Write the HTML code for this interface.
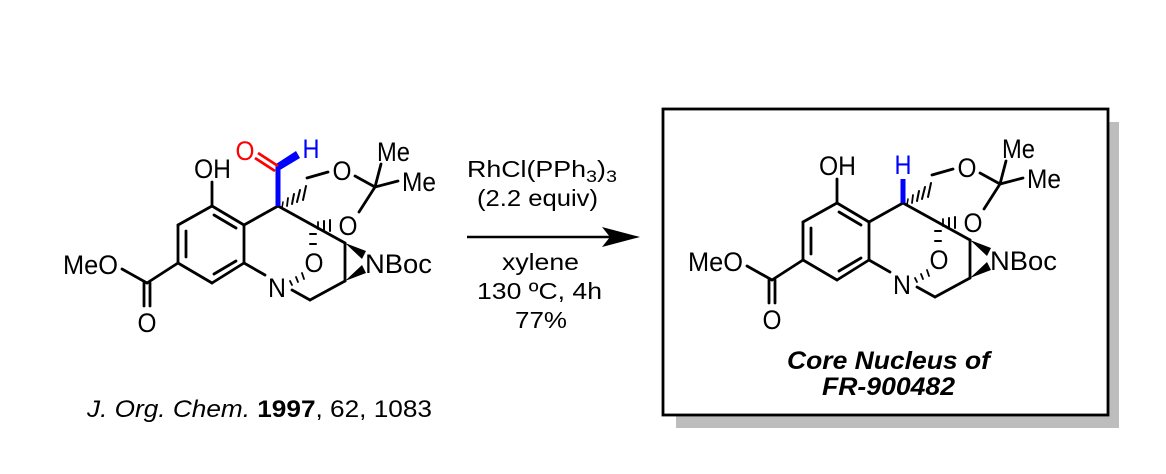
<!DOCTYPE html>
<html><head><meta charset="utf-8"><style>
html,body{margin:0;padding:0;background:#fff}
svg{display:block}
text{font-family:"Liberation Sans",Arial,sans-serif;fill:#000}
</style></head><body>
<svg width="1166" height="474" viewBox="0 0 1166 474" xmlns="http://www.w3.org/2000/svg">
<defs>
<g id="core" stroke="#000" stroke-width="2.8" fill="none" stroke-linecap="round">
  <line x1="212" y1="206" x2="178" y2="225"/>
  <line x1="178" y1="225" x2="178" y2="263"/>
  <line x1="178" y1="263" x2="212" y2="283"/>
  <line x1="212" y1="283" x2="244" y2="263"/>
  <line x1="244" y1="263" x2="244" y2="225"/>
  <line x1="244" y1="225" x2="212" y2="206"/>
  <line x1="186" y1="231" x2="186" y2="257"/>
  <line x1="214" y1="274" x2="236" y2="261"/>
  <line x1="214" y1="215" x2="236" y2="228"/>
  <line x1="212" y1="206" x2="212" y2="182"/>
  <line x1="178" y1="263" x2="147" y2="283"/>
  <line x1="147" y1="283" x2="122" y2="269"/>
  <line x1="144" y1="283" x2="144" y2="306"/>
  <line x1="150" y1="283" x2="150" y2="306"/>
  <line x1="244" y1="225" x2="278" y2="206"/>
  <line x1="278" y1="206" x2="345" y2="243"/>
  <line x1="345" y1="243" x2="345" y2="281"/>
  <line x1="345" y1="281" x2="310" y2="300"/>
  <line x1="310" y1="300" x2="292" y2="290"/>
  <line x1="244" y1="263" x2="265" y2="275"/>
  <line x1="307" y1="178" x2="328" y2="172"/>
  <line x1="355" y1="176" x2="375" y2="187"/>
  <line x1="375" y1="187" x2="359" y2="212"/>
  <line x1="375" y1="187" x2="381" y2="164"/>
  <line x1="375" y1="187" x2="398" y2="181"/>
  <line x1="283" y1="202" x2="282" y2="208" stroke-width="1.5"/>
  <line x1="288" y1="198" x2="287" y2="206" stroke-width="1.8"/>
  <line x1="294" y1="194" x2="292" y2="204" stroke-width="2"/>
  <line x1="300" y1="190" x2="297" y2="202" stroke-width="2"/>
  <line x1="306" y1="186" x2="303" y2="200" stroke-width="2"/>
  <line x1="318" y1="222" x2="318" y2="229" stroke-width="1.8"/>
  <line x1="324" y1="221" x2="324" y2="230" stroke-width="2"/>
  <line x1="330" y1="220" x2="330" y2="231" stroke-width="2"/>
  <line x1="310" y1="234" x2="316" y2="234" stroke-width="2"/>
  <line x1="310" y1="244" x2="316" y2="244" stroke-width="2"/>
  <line x1="290" y1="281" x2="292" y2="285" stroke-width="1.8"/>
  <line x1="296" y1="277" x2="298" y2="282" stroke-width="1.8"/>
  <line x1="302" y1="273" x2="304" y2="279" stroke-width="1.8"/>
</g>
<g id="labels">
  <text x="194" y="178" font-size="27" textLength="37" lengthAdjust="spacingAndGlyphs">OH</text>
  <text x="63" y="274" font-size="27" textLength="55" lengthAdjust="spacingAndGlyphs">MeO</text>
  <text x="147" y="332" font-size="27" text-anchor="middle" textLength="19" lengthAdjust="spacingAndGlyphs">O</text>
  <text x="342" y="180" font-size="27" text-anchor="middle" textLength="19" lengthAdjust="spacingAndGlyphs">O</text>
  <text x="348" y="235" font-size="27" text-anchor="middle" textLength="19" lengthAdjust="spacingAndGlyphs">O</text>
  <text x="314" y="272" font-size="27" text-anchor="middle" textLength="19" lengthAdjust="spacingAndGlyphs">O</text>
  <text x="277" y="297" font-size="27" text-anchor="middle" textLength="18" lengthAdjust="spacingAndGlyphs">N</text>
  <text x="377" y="161" font-size="27" textLength="33" lengthAdjust="spacingAndGlyphs">Me</text>
  <text x="402" y="191" font-size="27" textLength="34" lengthAdjust="spacingAndGlyphs">Me</text>
  <text x="365" y="273" font-size="27" textLength="67" lengthAdjust="spacingAndGlyphs">NBoc</text>
  <polygon points="345,243 366,251 362,259" fill="#000"/>
  <polygon points="345,281 362,265 366,273" fill="#000"/>
</g>
</defs>

<use href="#core"/>
<use href="#labels"/>
<line x1="278" y1="206" x2="278" y2="166" stroke="#0000ff" stroke-width="5"/>
<polygon points="276,164 280,170 300,158 296,151" fill="#0000ff"/>
<line x1="278" y1="166" x2="258" y2="153" stroke="#ff0000" stroke-width="2.8"/>
<line x1="275" y1="171" x2="255" y2="158" stroke="#ff0000" stroke-width="2.8"/>
<text x="245" y="160" font-size="27" text-anchor="middle" textLength="19" lengthAdjust="spacingAndGlyphs" style="fill:#ff0000">O</text>
<text x="311" y="158" font-size="27" text-anchor="middle" textLength="17" lengthAdjust="spacingAndGlyphs" style="fill:#0000ff">H</text>

<text x="467" y="177" font-size="23" textLength="150" lengthAdjust="spacingAndGlyphs">RhCl(PPh<tspan font-size="17" dy="5">3</tspan><tspan dy="-5">)</tspan><tspan font-size="17" dy="5">3</tspan></text>
<text x="477" y="206" font-size="23" textLength="121" lengthAdjust="spacingAndGlyphs">(2.2 equiv)</text>
<line x1="467" y1="237" x2="610" y2="237" stroke="#000" stroke-width="2.6"/>
<polygon points="602,227 640,237 602,247 610,237" fill="#000"/>
<text x="502" y="270" font-size="23" textLength="77" lengthAdjust="spacingAndGlyphs">xylene</text>
<text x="477" y="299" font-size="23" textLength="125" lengthAdjust="spacingAndGlyphs">130 ºC, 4h</text>
<text x="515" y="328" font-size="23" textLength="52" lengthAdjust="spacingAndGlyphs">77%</text>

<text x="87" y="417" font-size="24" textLength="345" lengthAdjust="spacingAndGlyphs"><tspan font-style="italic">J. Org. Chem.</tspan> <tspan font-weight="bold">1997</tspan>, 62, 1083</text>

<rect x="676" y="122" width="443" height="306" fill="#bdbdbd"/>
<rect x="663" y="109" width="445" height="306" fill="#fff" stroke="#000" stroke-width="2.8"/>

<g transform="translate(625,-3)">
  <use href="#core"/>
  <use href="#labels"/>
  <line x1="278" y1="206" x2="278" y2="182" stroke="#0000ff" stroke-width="5"/>
  <text x="278" y="177" font-size="27" text-anchor="middle" textLength="17" lengthAdjust="spacingAndGlyphs" style="fill:#0000ff">H</text>
</g>
<text x="787" y="369" font-size="25" font-weight="bold" font-style="italic" textLength="203" lengthAdjust="spacingAndGlyphs">Core Nucleus of</text>
<text x="822" y="395" font-size="25" font-weight="bold" font-style="italic" textLength="133" lengthAdjust="spacingAndGlyphs">FR-900482</text>
</svg>
</body></html>
